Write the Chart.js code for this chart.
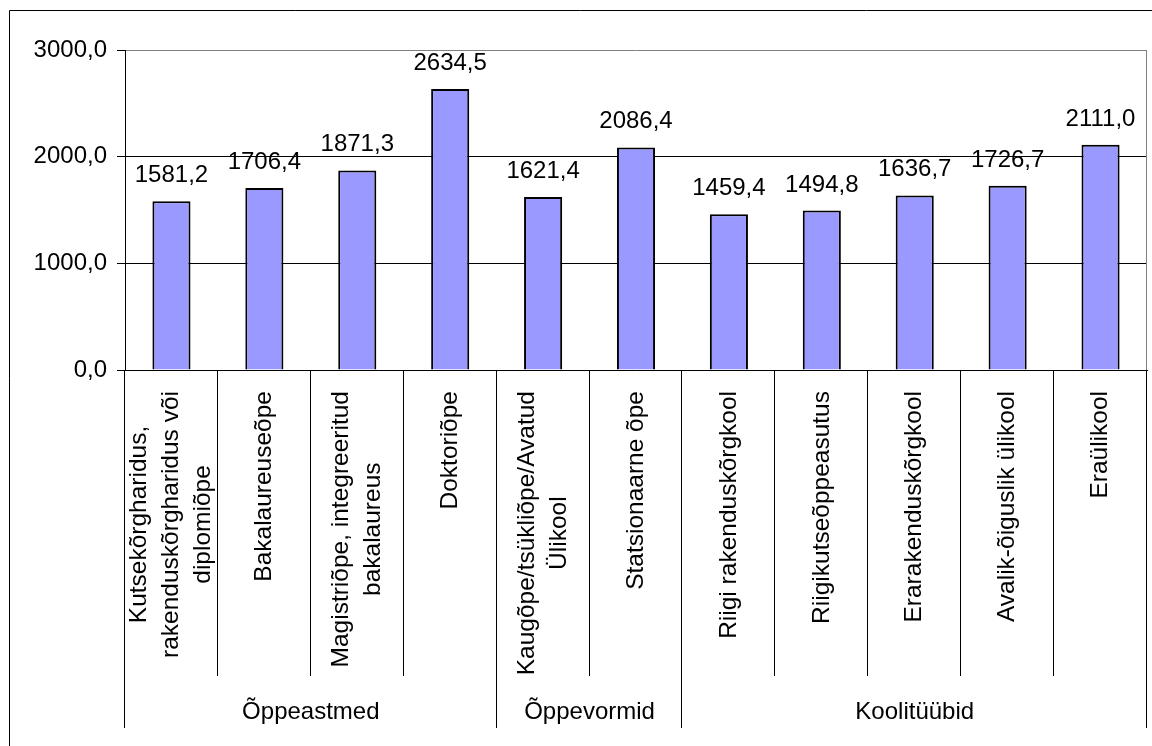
<!DOCTYPE html>
<html>
<head>
<meta charset="utf-8">
<script src="https://cdn.jsdelivr.net/npm/chart.js@4.4.1/dist/chart.umd.min.js"></script>
<style>
  body { margin: 0; background: #fff; }
  canvas { display: block; }
</style>
</head>
<body>
<canvas id="chart" width="1152" height="746"></canvas>
<script>
// Category labels (one array per bar, each entry one line of the rotated label).
const categories = [
    ['Kutsekõrgharidus,', 'rakenduskõrgharidus või', 'diplomiõpe'],
    ['Bakalaureuseõpe'],
    ['Magistriõpe, integreeritud', 'bakalaureus'],
    ['Doktoriõpe'],
    ['Kaugõpe/tsükliõpe/Avatud', 'Ülikool'],
    ['Statsionaarne õpe'],
    ['Riigi rakenduskõrgkool'],
    ['Riigikutseõppeasutus'],
    ['Erarakenduskõrgkool'],
    ['Avalik-õiguslik ülikool'],
    ['Eraülikool']
];

// Bar values.
const values = [1581.2, 1706.4, 1871.3, 2634.5, 1621.4, 2086.4, 1459.4, 1494.8, 1636.7, 1726.7, 2111.0];

// Group row under the category labels.
const groups = ['Õppeastmed', 'Õppevormid', 'Koolitüübid'];
const groupSizes = [4, 2, 5];

// Y axis ticks.
const yTicks = [0, 1000, 2000, 3000];

const FONT = "'Liberation Sans', Arial, sans-serif";
const FONT_SIZE = 24;
const CAT_FONT_SIZE = 24.5;

// Decimal comma format.
function fmt(v) {
    return v.toFixed(1).replace('.', ',');
}

// Draws the frame, separators, rotated labels, group names and value labels.
const excelLook = {
    id: 'excelLook',
    beforeDraw(chart) {
        const ctx = chart.ctx;
        ctx.save();
        ctx.strokeStyle = '#000';
        ctx.lineWidth = 1;
        ctx.beginPath();
        ctx.moveTo(9.5, chart.height);
        ctx.lineTo(9.5, 10.5);
        ctx.lineTo(chart.width, 10.5);
        ctx.stroke();
        ctx.restore();
    },
    afterDraw(chart) {
        const ctx = chart.ctx;
        const area = chart.chartArea;
        const x = chart.scales.x;
        const n = categories.length;
        const step = (x.right - x.left) / n;

        ctx.save();

        // Right border of the plot area.
        ctx.strokeStyle = '#808080';
        ctx.lineWidth = 1;
        ctx.beginPath();
        ctx.moveTo(Math.round(area.right) - 0.5, area.top);
        ctx.lineTo(Math.round(area.right) - 0.5, area.bottom);
        ctx.stroke();

        // Category and group separators.
        const groupEdges = [0];
        groupSizes.forEach(s => groupEdges.push(groupEdges[groupEdges.length - 1] + s));
        ctx.strokeStyle = '#000';
        for (let i = 0; i <= n; i++) {
            const px = Math.round(x.left + i * step) - 0.5;
            const bottom = groupEdges.includes(i) ? 728 : 676;
            ctx.beginPath();
            ctx.moveTo(px, area.bottom);
            ctx.lineTo(px, bottom);
            ctx.stroke();
        }

        // Rotated category labels, lines centred on each other.
        ctx.fillStyle = '#000';
        ctx.font = CAT_FONT_SIZE + 'px ' + FONT;
        const lineH = 32;
        const top = 391;
        categories.forEach((lines, i) => {
            const cx = x.getPixelForValue(i);
            const maxW = Math.max(...lines.map(l => ctx.measureText(l).width));
            ctx.save();
            ctx.translate(cx, top);
            ctx.rotate(-Math.PI / 2);
            ctx.textAlign = 'center';
            ctx.textBaseline = 'middle';
            lines.forEach((l, j) => {
                ctx.fillText(l, -maxW / 2, (j - (lines.length - 1) / 2) * lineH);
            });
            ctx.restore();
        });

        // Group names.
        ctx.font = FONT_SIZE + 'px ' + FONT;
        ctx.textAlign = 'center';
        ctx.textBaseline = 'alphabetic';
        groups.forEach((g, i) => {
            const x0 = x.left + groupEdges[i] * step;
            const x1 = x.left + groupEdges[i + 1] * step;
            ctx.fillText(g, (x0 + x1) / 2, 719);
        });

        // Value labels above the bars.
        const meta = chart.getDatasetMeta(0);
        meta.data.forEach((bar, i) => {
            ctx.fillText(fmt(values[i]), bar.x, bar.y - 19);
        });

        ctx.restore();
    }
};

const data = {
    labels: categories,
    datasets: [{
        data: values,
        backgroundColor: '#9999FF',
        borderColor: '#000',
        borderWidth: 2,
        barPercentage: 0.41,
        categoryPercentage: 1
    }]
};

const config = {
    type: 'bar',
    data: data,
    options: {
        responsive: false,
        animation: false,
        layout: {
            padding: { top: 50, right: 5, bottom: 0, left: 0 }
        },
        plugins: {
            legend: { display: false },
            tooltip: { enabled: false }
        },
        scales: {
            x: {
                offset: true,
                grid: { display: false },
                border: { display: true, color: '#000', width: 1 },
                ticks: { display: false },
                afterFit(scale) {
                    scale.height = 746 - 370;
                    scale.paddingLeft = 0;
                    scale.paddingRight = 0;
                }
            },
            y: {
                min: 0,
                max: 3000,
                afterBuildTicks(scale) {
                    scale.ticks = yTicks.map(v => ({ value: v }));
                },
                grid: {
                    color: ctx => ctx.tick && ctx.tick.value === 3000 ? '#808080' : '#000',
                    tickColor: '#000',
                    tickLength: 8,
                    lineWidth: 1
                },
                border: { display: true, color: '#000', width: 1 },
                ticks: {
                    color: '#000',
                    padding: 10,
                    font: { family: FONT, size: FONT_SIZE },
                    callback: v => fmt(v)
                },
                afterFit(scale) {
                    scale.width = 125;
                    scale.paddingTop = 0;
                    scale.paddingBottom = 0;
                }
            }
        }
    },
    plugins: [excelLook]
};

new Chart(document.getElementById('chart'), config);
</script>
</body>
</html>
